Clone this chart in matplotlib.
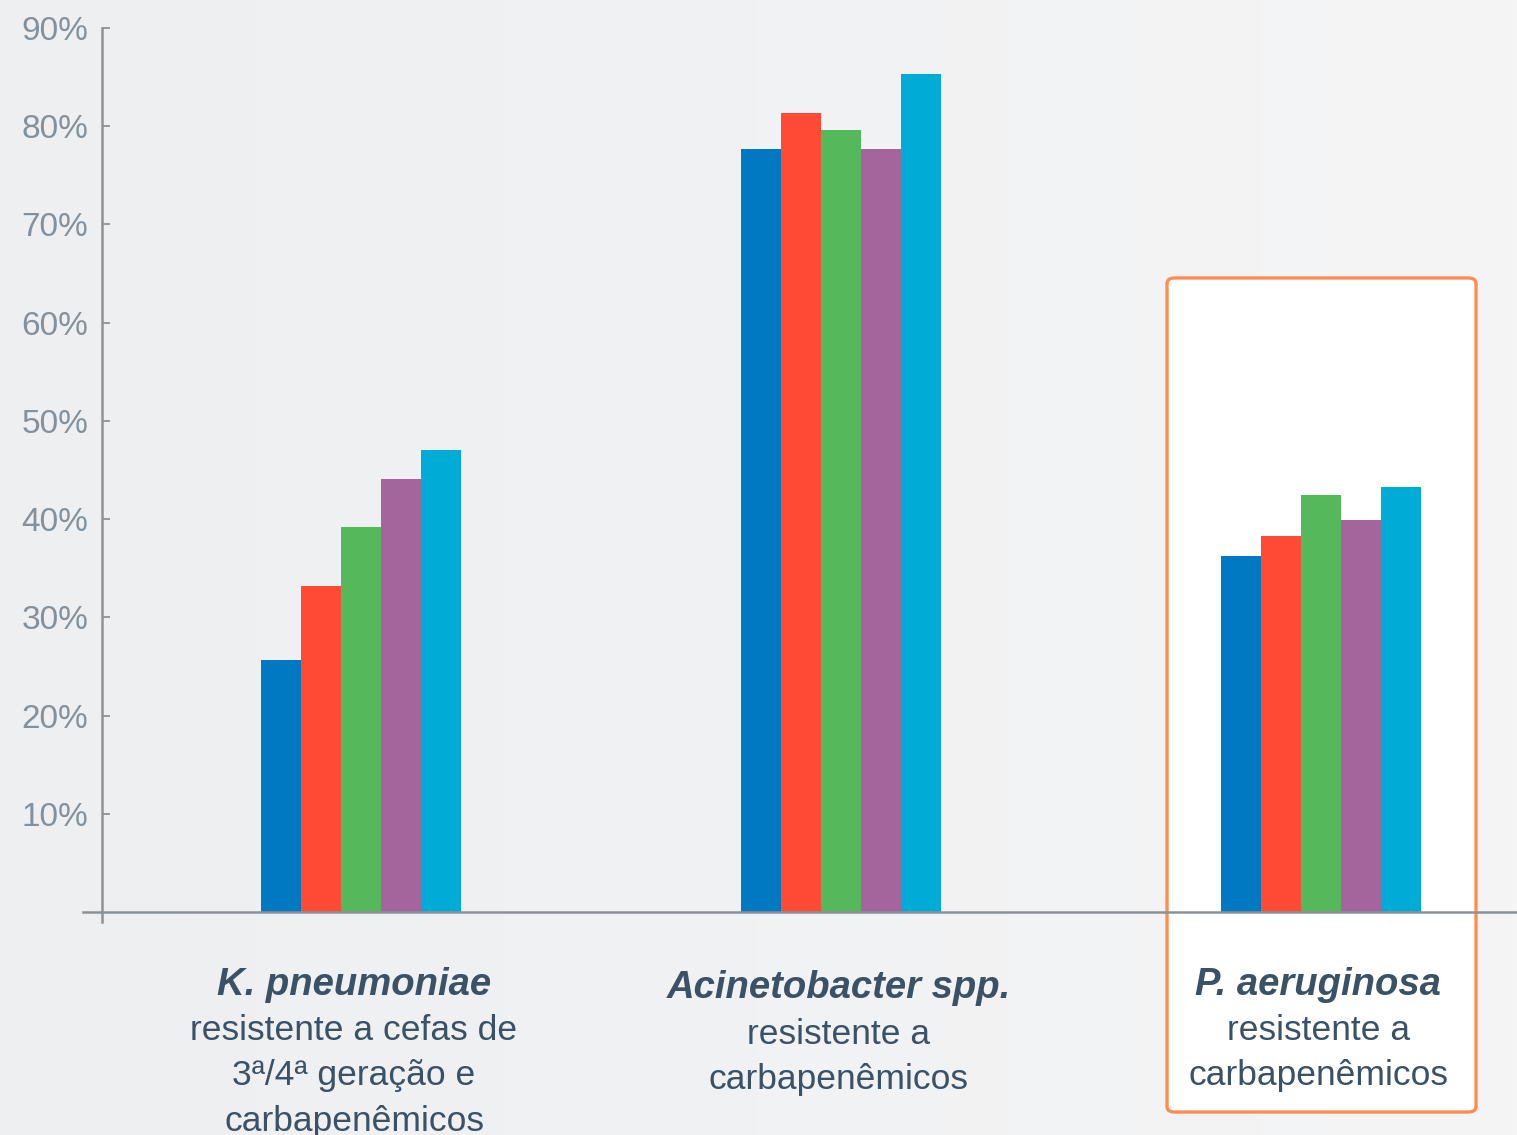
import matplotlib as mpl
import matplotlib.pyplot as plt
import numpy as np
from matplotlib.lines import Line2D
from matplotlib.patches import FancyBboxPatch
from matplotlib import transforms

mpl.use('Agg')
plt.rcParams['font.family'] = ['Liberation Sans', 'DejaVu Sans']

# ----------------------------------------------------------------------------------------------------------------------
# data (percent resistant)
groups = ['K. pneumoniae', 'Acinetobacter spp.', 'P. aeruginosa']
group_notes = [['resistente a cefas de', '3ª/4ª geração e', 'carbapenêmicos'],
               ['resistente a', 'carbapenêmicos'],
               ['resistente a', 'carbapenêmicos']]
series_blue = [25.7, 77.7, 36.2]
series_red = [33.2, 81.3, 38.3]
series_green = [39.2, 79.6, 42.5]
series_purple = [44.1, 77.7, 39.9]
series_cyan = [47.0, 85.3, 43.3]
y_ticks = [10, 20, 30, 40, 50, 60, 70, 80, 90]
y_tick_labels = ['10%', '20%', '30%', '40%', '50%', '60%', '70%', '80%', '90%']

all_series = [series_blue, series_red, series_green, series_purple, series_cyan]
colours = ['#0079c2', '#ff4b36', '#55b95c', '#a4659c', '#00acd6']

text_col = '#3b5166'
tick_col = '#84919b'
axis_col = '#8d9297'

# ----------------------------------------------------------------------------------------------------------------------
fig = plt.figure(figsize=(15.17, 11.35), dpi=100)

# soft grey background gradient
bg = fig.add_axes([0, 0, 1, 1], zorder=-3)
grad = np.linspace(0, 1, 256).reshape(1, -1)
bg.imshow(grad, aspect='auto', cmap=mpl.colors.LinearSegmentedColormap.from_list('bg', ['#edeff0', '#f5f5f6']),
          extent=[0, 1, 0, 1])
bg.set_axis_off()

# highlight box around the last group
box = FancyBboxPatch((1167 / 1517, 1 - 1112 / 1135), (1476 - 1167) / 1517, (1112 - 278) / 1135,
                     boxstyle='round,pad=0,rounding_size=0.005', transform=fig.transFigure,
                     facecolor='white', edgecolor='#ff8d52', linewidth=2.4, zorder=-2)
fig.patches.append(box)

ax = fig.add_axes([102 / 1517, 1 - 912 / 1135, 1 - 102 / 1517, (912 - 28) / 1135], zorder=0)
ax.patch.set_alpha(0)

x = np.arange(len(groups))
bar_w = 0.0833
for i, (vals, col) in enumerate(zip(all_series, colours)):
    ax.bar(x + (i - 2) * bar_w, vals, width=bar_w, color=col, linewidth=0, zorder=3)

ax.set_xlim(-0.54, -0.54 + 1415 / 480)
ax.set_ylim(0, 90)

for s in ax.spines.values():
    s.set_visible(False)

# axis lines (slightly overshooting, like the original)
ax.add_line(Line2D([0, 0], [-10 / 884, 1], transform=ax.transAxes, color=axis_col, lw=1.8, clip_on=False,
                   zorder=4))
ax.add_line(Line2D([-19 / 1415, 1], [0, 0], transform=ax.transAxes, color=axis_col, lw=1.8, clip_on=False,
                   zorder=4))

ax.set_yticks(y_ticks)
ax.set_yticklabels(y_tick_labels)
ax.tick_params(axis='y', direction='in', length=6, width=1.3, color=axis_col, labelcolor=tick_col,
               labelsize=24, pad=10)
ax.set_xticks([])

# category labels under the axis
trans = transforms.blended_transform_factory(ax.transData, fig.transFigure)
label_x = [x[0] - 0.015, x[1] - 0.005, x[2] - 0.006]
label_dy = [0, 3, 0]
for gx, dy, name, notes in zip(label_x, label_dy, groups, group_notes):
    ax.text(gx, 1 - (985 + dy) / 1135, name, transform=trans, ha='center', va='center', fontsize=27.5,
            fontweight='bold', fontstyle='italic', color=text_col, clip_on=False)
    for j, line in enumerate(notes):
        ax.text(gx, 1 - (1031 + dy + 45 * j) / 1135, line, transform=trans, ha='center', va='center',
                fontsize=25.5, color=text_col, clip_on=False)

plt.savefig('out.png', dpi=100)
